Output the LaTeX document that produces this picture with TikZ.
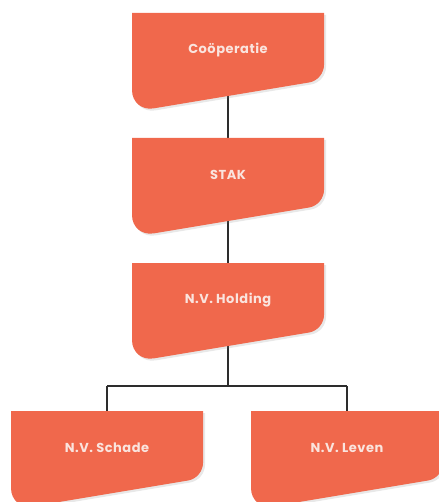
\documentclass[tikz,border=0pt]{standalone}
\usepackage{fontspec}
\setmainfont{Poppins}[LetterSpace=4]
\usetikzlibrary{shadows,backgrounds}
\definecolor{boxorange}{RGB}{240,104,76}
\definecolor{boxtext}{RGB}{250,228,222}
\definecolor{linkgray}{RGB}{45,45,45}
\tikzset{
  labelnode/.style={inner sep=0pt, text=boxtext, font=\bfseries\fontsize{13}{15}\selectfont},
  boxshape/.style={fill=boxorange, drop shadow={opacity=0.18, shadow xshift=2pt, shadow yshift=-2pt}},
  link/.style={draw=linkgray, line width=1.6pt},
}
\newcommand{\orgbox}[1]{%
  \path[boxshape] ([shift={(-96,-37)}]#1.center) -- ([shift={(96,-37)}]#1.center)
    [rounded corners=15pt] -- ([shift={(96,30)}]#1.center)
    [rounded corners=22pt] -- ([shift={(-96,62)}]#1.center)
    [sharp corners] -- ([shift={(-96,20)}]#1.center) -- cycle;}
\begin{document}
\begin{tikzpicture}[x=1pt,y=-1pt]
\useasboundingbox (0,0) rectangle (438,502);
\node[labelnode] (coop) at (228,50) {Coöperatie};
\node[labelnode] (stak) at (228,175) {STAK};
\node[labelnode] (hold) at (228,300) {N.V. Holding};
\node[labelnode] (schade) at (107,448) {N.V. Schade};
\node[labelnode] (leven) at (347,448) {N.V. Leven};
\coordinate (split) at (228,386);
\coordinate (lsplit) at (107,386);
\coordinate (rsplit) at (347,386);
\begin{pgfonlayer}{background}
\draw[link] (coop.center) -- (stak.center);
\draw[link] (stak.center) -- (hold.center);
\draw[link] (hold.center) -- (split);
\draw[link] (lsplit) -- (rsplit);
\draw[link] (lsplit) -- (schade.center);
\draw[link] (rsplit) -- (leven.center);
\orgbox{coop}
\orgbox{stak}
\orgbox{hold}
\orgbox{schade}
\orgbox{leven}
\end{pgfonlayer}
\end{tikzpicture}
\end{document}
